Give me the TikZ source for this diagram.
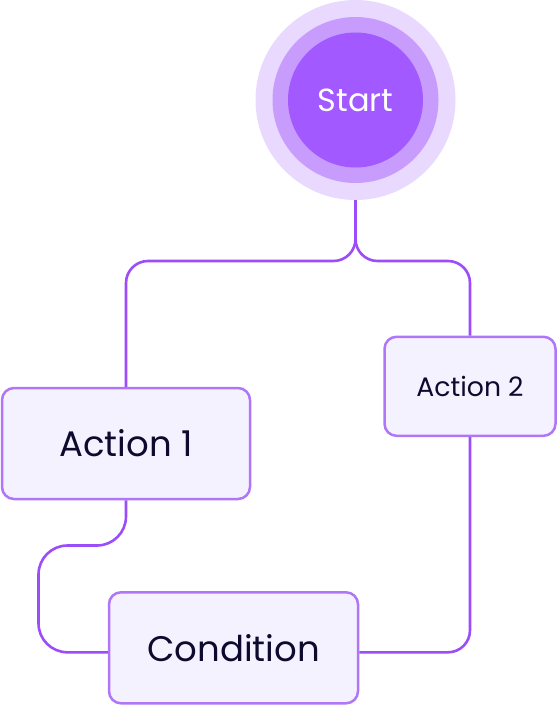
\documentclass[tikz,border=0pt]{standalone}
\usepackage{fontspec}
\setmainfont{Poppins}
\usepackage{tikz}
\usetikzlibrary{positioning}
\usepackage{xcolor}
\definecolor{flpurple}{RGB}{162,89,255}
\definecolor{flmid}{RGB}{200,156,253}
\definecolor{flhalo}{RGB}{233,217,254}
\definecolor{flline}{RGB}{155,77,250}
\definecolor{flborder}{RGB}{176,118,248}
\definecolor{flfill}{RGB}{245,242,255}
\definecolor{fltext}{RGB}{14,10,46}
\tikzstyle{box} = [draw=flborder, fill=flfill, line width=2.5pt, rounded corners=12pt, text=fltext, inner sep=0pt]
\tikzstyle{link} = [draw=flline, line width=2.6pt]

\begin{document}
\begin{tikzpicture}[x=1pt, y=1pt]
\useasboundingbox (0,0) rectangle (558,-706);

% Start circle
\node[circle, fill=flhalo, minimum size=200pt, inner sep=0pt] (halo) at (355.5,-100) {};
\node[circle, fill=flmid, minimum size=166pt, inner sep=0pt] at (halo) {};
\node[circle, fill=flpurple, minimum size=135pt, inner sep=0pt, text=white, font=\fontsize{32}{36}\selectfont] (start) at (halo) {Start};

% Boxes
\node[box, minimum width=248pt, minimum height=111pt, font=\fontsize{35.5}{40}\selectfont] (act1) at (126,-443.5) {Action 1};
\node[box, minimum width=171pt, minimum height=99pt, font=\fontsize{26.7}{30}\selectfont] (act2) at (470,-386.3) {Action 2};
\node[box, minimum width=249pt, minimum height=111pt, font=\fontsize{35.5}{40}\selectfont] (cond) at (233.5,-647.8) {Condition};

% Split below start
\coordinate (split) at (355.5,-261);
\draw[link, rounded corners=22pt] (halo.south) -- (split) -| (act1.north);
\draw[link, rounded corners=22pt] (halo.south) -- (split) -| (act2.north);

% Action 1 to Condition
\coordinate (bend) at (38.5,-545.5);
\draw[link, rounded corners=29pt] (act1.south) |- (bend) |- ([yshift=-4.5pt]cond.west);

% Condition to Action 2
\draw[link, rounded corners=22pt] ([yshift=-4.5pt]cond.east) -| (act2.south);
\end{tikzpicture}
\end{document}
